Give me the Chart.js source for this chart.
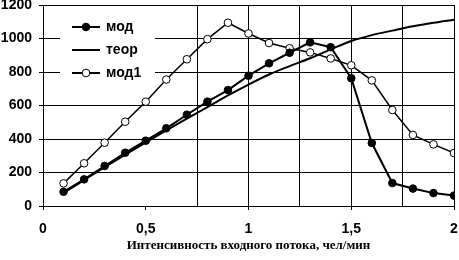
<!DOCTYPE html>
<html>
<head>
<meta charset="utf-8">
<script src="https://cdn.jsdelivr.net/npm/chart.js@4.4.1/dist/chart.umd.min.js"></script>
<style>
  html, body { margin: 0; padding: 0; background: #fff; }
  #wrap { width: 459px; height: 260px; position: relative; }
</style>
</head>
<body>
<div id="wrap"><canvas id="c" width="459" height="260"></canvas></div>
<script>
// ---- data ----
const xValues = [0.1, 0.2, 0.3, 0.4, 0.5, 0.6, 0.7, 0.8, 0.9, 1.0, 1.1, 1.2, 1.3, 1.4, 1.5, 1.6, 1.7, 1.8, 1.9, 2.0];
const modValues  = [85, 159, 239, 318, 390, 464, 545, 623, 692, 778, 852, 915, 977, 948, 763, 376, 137, 104, 77, 62];
const teorValues = [78, 155, 232, 306, 380, 452, 522, 590, 660, 725, 785, 835, 882, 935, 985, 1020, 1047, 1073, 1094, 1112];
const mod1Values = [135, 255, 378, 503, 623, 755, 876, 996, 1094, 1030, 973, 942, 917, 881, 840, 750, 573, 424, 368, 316];
const seriesNames = ['мод', 'теор', 'мод1'];
const xTickLabels = { '0': '0', '0.5': '0,5', '1': '1', '1.5': '1,5', '2': '2' };
const yTickValues = [0, 200, 400, 600, 800, 1000, 1200];
const xTitle = 'Интенсивность входного потока, чел/мин';

const toPoints = vals => vals.map((v, i) => ({ x: xValues[i], y: v }));

const tickFont = { family: "'Liberation Sans', Arial, sans-serif", size: 14, weight: 'bold' };

const legendPlugin = {
  id: 'insideLegend',
  afterDraw(chart) {
    const ctx = chart.ctx;
    ctx.save();
    ctx.fillStyle = '#fff';
    ctx.fillRect(60, 12, 95, 73);
    const rows = [27, 50, 73];
    chart.data.datasets.forEach((ds, i) => {
      const y = rows[i];
      ctx.strokeStyle = '#000';
      ctx.lineWidth = 2;
      ctx.beginPath();
      ctx.moveTo(72, y);
      ctx.lineTo(100, y);
      ctx.stroke();
      if (ds.pointRadius > 0) {
        ctx.beginPath();
        ctx.arc(86, y, ds.pointRadius, 0, Math.PI * 2);
        ctx.fillStyle = ds.pointBackgroundColor;
        ctx.fill();
        ctx.lineWidth = ds.pointBorderWidth;
        ctx.strokeStyle = '#000';
        ctx.stroke();
      }
      ctx.fillStyle = '#000';
      ctx.font = "bold 14px 'Liberation Sans', Arial, sans-serif";
      ctx.textBaseline = 'middle';
      ctx.textAlign = 'left';
      ctx.fillText(ds.label, 106, y);
    });
    ctx.restore();
  }
};

new Chart(document.getElementById('c'), {
  type: 'line',
  data: {
    datasets: [
      {
        label: seriesNames[0], data: toPoints(modValues),
        borderColor: '#000', borderWidth: 2,
        pointRadius: 3.8, pointBackgroundColor: '#000', pointBorderColor: '#000', pointBorderWidth: 1,
        tension: 0
      },
      {
        label: seriesNames[1], data: toPoints(teorValues),
        borderColor: '#000', borderWidth: 2,
        pointRadius: 0, pointBackgroundColor: '#000', pointBorderWidth: 0,
        cubicInterpolationMode: 'monotone'
      },
      {
        label: seriesNames[2], data: toPoints(mod1Values),
        borderColor: '#000', borderWidth: 1.5,
        pointRadius: 3.8, pointBackgroundColor: '#fff', pointBorderColor: '#000', pointBorderWidth: 1,
        tension: 0
      }
    ]
  },
  options: {
    responsive: false,
    animation: false,
    devicePixelRatio: 1,
    layout: { padding: { top: 5, right: 4, left: 0, bottom: 0 } },
    plugins: { legend: { display: false }, tooltip: { enabled: false } },
    scales: {
      x: {
        type: 'linear', min: 0, max: 2,
        afterFit(s) { s.height = 54; s.paddingLeft = 0; s.paddingRight = 0; },
        afterBuildTicks(s) {
          const t = [];
          for (let k = 0; k <= 8; k++) t.push({ value: k * 0.25 });
          s.ticks = t;
        },
        ticks: {
          autoSkip: false, maxRotation: 0, color: '#000', font: tickFont, padding: 11,
          callback: v => { const key = String(Math.round(v * 100) / 100); return xTickLabels[key] !== undefined ? xTickLabels[key] : ''; }
        },
        grid: {
          drawOnChartArea: true, drawTicks: true, tickLength: 4, lineWidth: 1,
          color: c => (c.tick && c.tick.value >= 0.74) ? '#000' : 'rgba(0,0,0,0)',
          tickColor: c => (c.tick && Math.abs(c.tick.value * 2 - Math.round(c.tick.value * 2)) < 1e-6) ? '#000' : 'rgba(0,0,0,0)'
        },
        border: { display: true, color: '#000', width: 1 },
        title: {
          display: true, text: xTitle, color: '#000',
          font: { family: "'Liberation Serif', 'Times New Roman', serif", size: 13, weight: 'bold' },
          padding: { top: 0, bottom: 7 }
        }
      },
      y: {
        type: 'linear', min: 0, max: 1200,
        afterFit(s) { s.width = 43; s.paddingTop = 0; s.paddingBottom = 0; },
        afterBuildTicks(s) { s.ticks = yTickValues.map(v => ({ value: v })); },
        ticks: { color: '#000', font: tickFont, padding: 7, callback: v => String(v) },
        grid: { color: '#000', lineWidth: 1, drawTicks: true, tickLength: 4, tickColor: '#000' },
        border: { display: true, color: '#000', width: 1 }
      }
    }
  },
  plugins: [legendPlugin]
});
</script>
</body>
</html>
